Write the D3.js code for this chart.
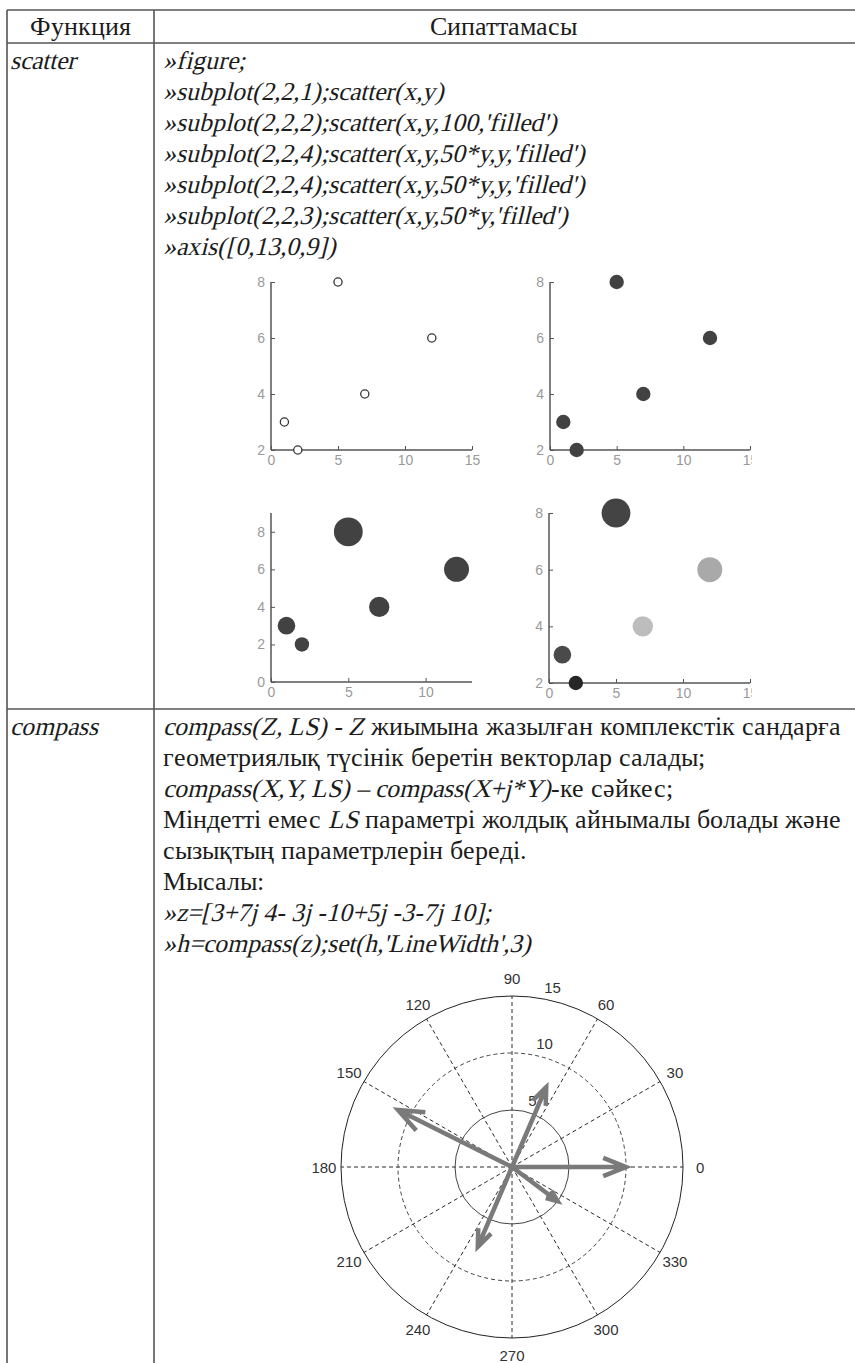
<!DOCTYPE html>
<html>
<head>
<meta charset="utf-8">
<script src="https://cdn.jsdelivr.net/npm/d3@7"></script>
<style>
  /* upright face only, so italic runs are slanted from it */
  @font-face {
    font-family: "BookSerif";
    src: local("Liberation Serif"), local("LiberationSerif");
    font-style: normal;
    font-weight: 400;
  }
  body { margin: 0; background: #fff; }
  svg { display: block; }
</style>
</head>
<body>
<svg id="page" width="855" height="1363"></svg>
<script>
// ---- data ----
const headers = ["Функция", "Сипаттамасы"];
const funcNames = ["scatter", "compass"];

const scatterCode = [
  "»figure;",
  "»subplot(2,2,1);scatter(x,y)",
  "»subplot(2,2,2);scatter(x,y,100,'filled')",
  "»subplot(2,2,4);scatter(x,y,50*y,y,'filled')",
  "»subplot(2,2,4);scatter(x,y,50*y,y,'filled')",
  "»subplot(2,2,3);scatter(x,y,50*y,'filled')",
  "»axis([0,13,0,9])"
];

// each line: list of [text, italic]
const compassText = [
  [["compass(Z, LS) - Z", true], [" жиымына жазылған комплекстік сандарға", false]],
  [["геометриялық түсінік беретін векторлар салады;", false]],
  [["compass(X,Y, LS) – compass(X+j*Y)", true], ["-ке сәйкес;", false]],
  [["Міндетті емес ", false], ["LS", true], [" параметрі жолдық айнымалы болады және", false]],
  [["сызықтың параметрлерін береді.", false]],
  [["Мысалы:", false]],
  [["»z=[3+7j 4- 3j -10+5j -3-7j 10];", true]],
  [["»h=compass(z);set(h,'LineWidth',3)", true]]
];

// scatter sample
const xs = [1, 2, 5, 7, 12];
const ys = [3, 2, 8, 4, 6];
const filledSize = 100;      // points^2
const sizePerY = 50;         // S = 50*y
const defaultSize = 36;      // points^2
// grey levels of the colormap at the sample y values
const cmapStops = [2, 3, 4, 6, 8];
const cmapGreys = ["#262626", "#4a4a4a", "#bdbdbd", "#a9a9a9", "#444444"];

// compass sample: z = re + j*im
const zRe = [3, 4, -10, -3, 10];
const zIm = [7, -3, 5, -7, 0];
const ringValues = [5, 10, 15];
const spokeAngles = [0, 30, 60, 90, 120, 150, 180, 210, 240, 270, 300, 330];

// ---- page ----
const svg = d3.select("#page");
svg.append("rect").attr("width", 855).attr("height", 1363).attr("fill", "#fff");

const serif = "BookSerif, 'Liberation Serif', 'Times New Roman', serif";
const sans = "'Liberation Sans', Arial, sans-serif";
const ink = "#1c1c1c";
const rule = "#555";
const upSize = 26.1, itSize = 25.6;

const T = { left: 7, split: 154, right: 900, top: 10, headBottom: 43, rowSplit: 709, bottom: 1400 };

// table rules
const rules = svg.append("g").attr("stroke", rule).attr("stroke-width", 1.6).attr("fill", "none");
[[T.left, T.top, T.right, T.top],
 [T.left, T.headBottom, T.right, T.headBottom],
 [T.left, T.rowSplit, T.right, T.rowSplit],
 [T.left, T.top, T.left, T.bottom],
 [T.split, T.top, T.split, T.bottom]
].forEach(([x1, y1, x2, y2]) => rules.append("line").attr("x1", x1).attr("y1", y1).attr("x2", x2).attr("y2", y2));

const textG = svg.append("g").attr("font-family", serif).attr("font-size", upSize).attr("fill", ink);

// header
textG.append("text").attr("x", (T.left + T.split) / 2).attr("y", 35).attr("text-anchor", "middle").text(headers[0]);
textG.append("text").attr("x", 503).attr("y", 35).attr("text-anchor", "middle").text(headers[1]);

// function names
const lineH = 31;
const row1Base = 69, row2Base = 735;
const italic = sel => sel.attr("font-style", "italic").attr("font-size", itSize);
textG.append("text").attr("x", 10).attr("y", row1Base).call(italic).text(funcNames[0]);
textG.append("text").attr("x", 10).attr("y", row2Base).call(italic).text(funcNames[1]);

// code lines of the scatter row
scatterCode.forEach((s, i) => {
  textG.append("text").attr("x", 163).attr("y", row1Base + i * lineH).call(italic).text(s);
});

// description of the compass row
compassText.forEach((segs, i) => {
  const t = textG.append("text").attr("x", 163).attr("y", row2Base + i * lineH);
  segs.forEach(([s, it]) => {
    const ts = t.append("tspan").text(s);
    if (it) ts.call(italic);
  });
});

// ---- scatter subplots ----
const rScale = d3.scaleSqrt().domain([0, 400]).range([0, 14.4]);
const greyScale = d3.scaleLinear().domain(cmapStops).range(cmapGreys);

svg.append("clipPath").attr("id", "clipRight")
  .append("rect").attr("x", 480).attr("y", 250).attr("width", 272).attr("height", 460);

const panels = [
  { x0: 271, x1: 472, yTop: 282, yBot: 450, xd: [0, 15], yd: [2, 8], xt: [0, 5, 10, 15], yt: [2, 4, 6, 8], kind: "open" },
  { x0: 550, x1: 750, yTop: 282, yBot: 450, xd: [0, 15], yd: [2, 8], xt: [0, 5, 10, 15], yt: [2, 4, 6, 8], kind: "filled", clip: true },
  { x0: 271, x1: 472, yTop: 513, yBot: 682, xd: [0, 13], yd: [0, 9], xt: [0, 5, 10], yt: [0, 2, 4, 6, 8], kind: "sized" },
  { x0: 549, x1: 750, yTop: 513, yBot: 683, xd: [0, 15], yd: [2, 8], xt: [0, 5, 10, 15], yt: [2, 4, 6, 8], kind: "coloured", clip: true }
];

panels.forEach(p => {
  const g = svg.append("g");
  if (p.clip) g.attr("clip-path", "url(#clipRight)");
  const x = d3.scaleLinear().domain(p.xd).range([p.x0, p.x1]);
  const y = d3.scaleLinear().domain(p.yd).range([p.yBot, p.yTop]);

  const xAxis = d3.axisBottom(x).tickValues(p.xt).tickSize(-4).tickPadding(5).tickFormat(d3.format("d"));
  const yAxis = d3.axisLeft(y).tickValues(p.yt).tickSize(-4).tickPadding(6).tickFormat(d3.format("d"));

  const gx = g.append("g").attr("transform", `translate(0,${p.yBot})`).call(xAxis);
  const gy = g.append("g").attr("transform", `translate(${p.x0},0)`).call(yAxis);
  [gx, gy].forEach(a => {
    a.select(".domain").attr("stroke", "#555").attr("stroke-width", 1.5);
    a.selectAll(".tick line").attr("stroke", "#555").attr("stroke-width", 1);
    a.selectAll(".tick text").attr("fill", "#9a9a9a").attr("font-family", sans).attr("font-size", 14);
  });
  gx.select(".domain").attr("d", `M${p.x0},0H${p.x1}`);
  gy.select(".domain").attr("d", `M0,${p.yBot}V${p.yTop}`);

  const pts = xs.map((v, i) => ({ x: v, y: ys[i] }));
  const dots = g.append("g").selectAll("circle").data(pts).join("circle")
    .attr("cx", d => x(d.x)).attr("cy", d => y(d.y));
  if (p.kind === "open") {
    dots.attr("r", rScale(defaultSize) * 0.95).attr("fill", "#fff").attr("stroke", "#333").attr("stroke-width", 1.3);
  } else if (p.kind === "filled") {
    dots.attr("r", rScale(filledSize)).attr("fill", "#424242");
  } else if (p.kind === "sized") {
    dots.attr("r", d => rScale(sizePerY * d.y)).attr("fill", "#424242");
  } else {
    dots.attr("r", d => rScale(sizePerY * d.y)).attr("fill", d => greyScale(d.y));
  }
});

// ---- compass plot ----
const cx = 512, cy = 1167;
const rMax = d3.max(ringValues);
const r = d3.scaleLinear().domain([0, rMax]).range([0, 171]);
const cg = svg.append("g").attr("transform", `translate(${cx},${cy})`);
const rad = a => a * Math.PI / 180;

// spokes
cg.append("g").selectAll("line").data(spokeAngles).join("line")
  .attr("x1", 0).attr("y1", 0)
  .attr("x2", a => r(rMax) * Math.cos(rad(a)))
  .attr("y2", a => -r(rMax) * Math.sin(rad(a)))
  .attr("stroke", "#2a2a2a").attr("stroke-width", 1).attr("stroke-dasharray", "4,3");

// rings
cg.append("g").selectAll("circle").data(ringValues).join("circle")
  .attr("r", d => r(d)).attr("fill", "none")
  .attr("stroke", d => d === rMax ? "#222" : "#444")
  .attr("stroke-width", 1)
  .attr("stroke-dasharray", d => (d === 10 ? "4,3" : null));

// ring labels at 82 degrees
const c82 = Math.cos(rad(82)), s82 = Math.sin(rad(82));
cg.append("g").selectAll("text").data(ringValues).join("text")
  .attr("x", d => r(d + 0.25) * c82 + 8)
  .attr("y", d => -r(d + 0.25) * s82 - 2)
  .attr("font-family", sans).attr("font-size", 15).attr("fill", "#333")
  .text(d => d);

// angle labels
cg.append("g").selectAll("text").data(spokeAngles).join("text")
  .attr("x", a => r(rMax * 1.1) * Math.cos(rad(a)))
  .attr("y", a => -r(rMax * 1.1) * Math.sin(rad(a)))
  .attr("text-anchor", "middle").attr("dominant-baseline", "central")
  .attr("font-family", sans).attr("font-size", 15).attr("fill", "#333")
  .text(a => a);

// arrows: shaft plus head, head is 20% of length, half-width 8%
const arrowShape = [[0, 0], [1, 0], [0.8, 0.08], [1, 0], [0.8, -0.08]];
const vecs = zRe.map((re, i) => ({ re, im: zIm[i] }));
cg.append("g").selectAll("path").data(vecs).join("path")
  .attr("d", v => d3.line()(arrowShape.map(([a, b]) => {
    // complex product (a + jb)(re + j im)
    const px = a * v.re - b * v.im;
    const py = a * v.im + b * v.re;
    return [r(px), -r(py)];
  })))
  .attr("fill", "none").attr("stroke", "#7a7a7a").attr("stroke-width", 4.5)
  .attr("stroke-linejoin", "miter").attr("stroke-linecap", "butt");
</script>
</body>
</html>
